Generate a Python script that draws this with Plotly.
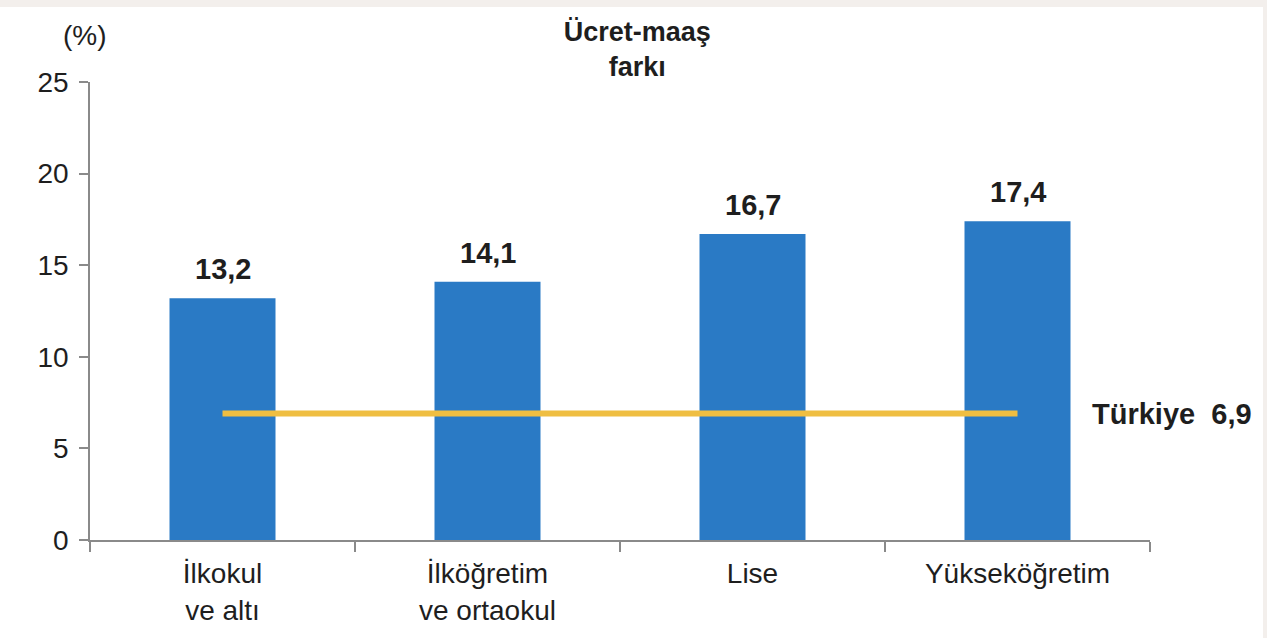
import plotly.graph_objects as go

categories = ["İlkokul ve altı", "İlköğretim ve ortaokul", "Lise", "Yükseköğretim"]
tick_labels = ["İlkokul<br>ve altı", "İlköğretim<br>ve ortaokul", "Lise", "Yükseköğretim"]
values = [13.2, 14.1, 16.7, 17.4]
turkiye_value = 6.9
title_text = "Ücret-maaş<br>farkı"
unit_text = "(%)"
y_ticks = [0, 5, 10, 15, 20, 25]

FONT = "Liberation Sans, Arial, sans-serif"
TXT = "#1e1e1e"
BAR = "#2A7AC5"
GOLD = "#EFBE42"
AXIS = "#8a8a8a"
FS = 29

fig = go.Figure()
fig.add_trace(go.Bar(x=categories, y=values, marker=dict(color=BAR, line=dict(width=0)),
                     hoverinfo="skip", showlegend=False))
fig.add_trace(go.Scatter(x=[categories[0], categories[-1]], y=[turkiye_value, turkiye_value],
                         mode="lines", line=dict(color=GOLD, width=6),
                         hoverinfo="skip", showlegend=False))

fmt = lambda v: f"{v:.1f}".replace(".", ",")
for c, v in zip(categories, values):
    fig.add_annotation(x=c, y=v, text=f"<b>{fmt(v)}</b>", showarrow=False,
                       yanchor="bottom", yshift=11,
                       font=dict(family=FONT, size=FS, color=TXT))

fig.add_annotation(xref="paper", yref="y", x=0.943, y=turkiye_value,
                   text=f"<b>Türkiye&nbsp;&nbsp;{fmt(turkiye_value)}</b>", showarrow=False,
                   xanchor="left", yanchor="middle",
                   font=dict(family=FONT, size=FS, color=TXT))

fig.add_annotation(xref="paper", yref="paper", x=-0.005, y=1.0, yshift=47,
                   text=unit_text, showarrow=False, xanchor="center", yanchor="middle",
                   font=dict(family=FONT, size=FS - 1, color=TXT))

# light frame bands (top and right)
fig.add_shape(type="rect", xref="paper", yref="paper", x0=-0.2, x1=1.3, y0=1.164, y1=1.3,
              fillcolor="#F3EFEC", line=dict(width=0), layer="below")
fig.add_shape(type="rect", xref="paper", yref="paper", x0=1.1066, x1=1.3, y0=-0.3, y1=1.3,
              fillcolor="#F3EFEC", line=dict(width=0), layer="below")

fig.update_layout(
    width=1267, height=638,
    margin=dict(l=90, r=117, t=82, b=93),
    paper_bgcolor="white", plot_bgcolor="white",
    bargap=0.6,
    title=dict(text=f"<b>{title_text}</b>", x=0.503, xanchor="center",
               y=0.936, yanchor="middle", yref="container",
               font=dict(family=FONT, size=FS - 2, color=TXT)),
    font=dict(family=FONT, size=FS, color=TXT),
    xaxis=dict(type="category", tickmode="array", tickvals=categories, ticktext=tick_labels,
               tickson="boundaries", ticks="outside", ticklen=10, tickcolor=AXIS, tickwidth=1.5,
               showline=True, linecolor=AXIS, linewidth=1.5, showgrid=False, zeroline=False,
               ticklabelstandoff=8,
               range=[-0.5, 3.5], tickfont=dict(family=FONT, size=FS - 1, color=TXT)),
    yaxis=dict(range=[0, 25], tickmode="array", tickvals=y_ticks,
               ticks="outside", ticklen=9, tickcolor=AXIS, tickwidth=1.5,
               showline=True, linecolor=AXIS, linewidth=1.5, showgrid=False, zeroline=False,
               ticklabelstandoff=5, tickfont=dict(family=FONT, size=FS - 1, color=TXT)),
)

fig.write_html("out.html", config={"displayModeBar": False},
               post_script="document.body.style.margin='0';")
